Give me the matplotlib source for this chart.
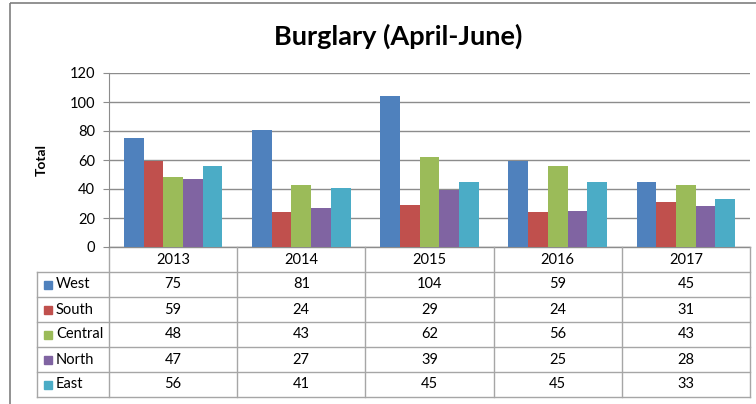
import numpy as np
import matplotlib.pyplot as plt
from matplotlib.patches import Rectangle

plt.rcParams['font.family'] = ['Lato', 'DejaVu Sans']

years = ['2013', '2014', '2015', '2016', '2017']
regions = ['West', 'South', 'Central', 'North', 'East']
west = [75, 81, 104, 59, 45]
south = [59, 24, 29, 24, 31]
central = [48, 43, 62, 56, 43]
north = [47, 27, 39, 25, 28]
east = [56, 41, 45, 45, 33]
colors = ['#4F81BD', '#C0504D', '#9BBB59', '#8064A2', '#4BACC6']

series = [west, south, central, north, east]
W, H = 756, 404
grid_c = '#8c8c8c'

fig = plt.figure(figsize=(W / 100, H / 100), dpi=100)

# overlay in pixel coordinates for border, title, table
ov = fig.add_axes([0, 0, 1, 1])
ov.set_xlim(0, W)
ov.set_ylim(H, 0)
ov.axis('off')
ov.add_patch(Rectangle((10, 3), 800, 450, fill=False, edgecolor='#7f7f7f', lw=1.2))
ov.text(398, 36, 'Burglary (April-June)', ha='center', va='center',
        fontsize=19.5, fontweight='bold')
ov.text(42, 160, 'Total', rotation=90, ha='center', va='center',
        fontsize=10, fontweight='bold')

# plot area
left, right, top, bottom = 109, 750, 73, 247
ax = fig.add_axes([left / W, (H - bottom) / H, (right - left) / W, (bottom - top) / H])
ax.set_zorder(2)
ax.patch.set_alpha(0)
x = np.arange(len(years))
bw = 1 / 6.5
for i, (vals, c) in enumerate(zip(series, colors)):
    ax.bar(x + (i - 2) * bw, vals, bw, color=c, zorder=3, edgecolor='none')
ax.set_xlim(-0.5, len(years) - 0.5)
ax.set_ylim(0, 120)
ax.set_yticks(range(0, 121, 20))
ax.set_xticks([])
ax.yaxis.grid(True, color=grid_c, lw=1)
ax.set_axisbelow(True)
for s in ['top', 'right', 'bottom']:
    ax.spines[s].set_visible(False)
ax.spines['left'].set_color(grid_c)
ax.tick_params(axis='y', length=4, color=grid_c, labelsize=10.5, pad=6)

# data table
cw = (right - left) / len(years)
rh = 25
tl = 37
lc = '#a6a6a6'
ov.plot([left, right], [bottom, bottom], color=grid_c, lw=1)
for r in range(1, len(regions) + 2):
    y = bottom + r * rh
    ov.plot([tl, right], [y, y], color=lc, lw=1)
ov.plot([tl, tl], [bottom + rh, bottom + rh * (len(regions) + 1)], color=lc, lw=1)
for k in range(len(years) + 1):
    ov.plot([left + k * cw] * 2, [bottom, bottom + rh * (len(regions) + 1)], color=lc, lw=1)
for k, yr in enumerate(years):
    ov.text(left + (k + 0.5) * cw, bottom + rh / 2, yr, ha='center', va='center', fontsize=10.5)
for r, (name, vals, c) in enumerate(zip(regions, series, colors)):
    yc = bottom + (r + 1.5) * rh
    ov.add_patch(Rectangle((44, yc - 4), 8, 8, color=c))
    ov.text(56, yc, name, ha='left', va='center', fontsize=10.5)
    for k, v in enumerate(vals):
        ov.text(left + (k + 0.5) * cw, yc, str(v), ha='center', va='center', fontsize=10.5)

fig.savefig('out.png', dpi=100)
